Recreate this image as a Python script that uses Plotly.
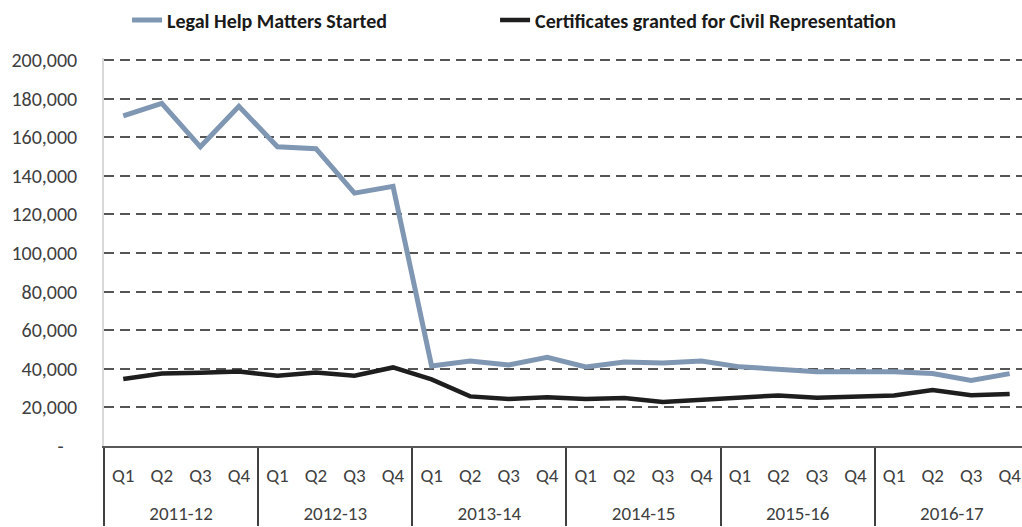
import plotly.graph_objects as go

years = ["2011-12", "2012-13", "2013-14", "2014-15", "2015-16", "2016-17"]
quarters = ["Q1", "Q2", "Q3", "Q4"]

legal_help = [171000, 177500, 155000, 176000, 155000, 154000, 131000, 134500,
              41500, 44000, 42000, 46000, 41000, 43500, 43000, 44000,
              41000, 39500, 38500, 38500, 38500, 37500, 34000, 37500]
certificates = [34700, 37600, 37900, 38600, 36400, 38100, 36400, 40700,
                34500, 25700, 24400, 25200, 24400, 24900, 22800, 24000,
                24900, 26200, 25000, 25700, 26200, 29000, 26300, 27000]

y_ticks = [0, 20000, 40000, 60000, 80000, 100000, 120000, 140000, 160000, 180000, 200000]
y_labels = ["-\u00a0\u00a0\u00a0"] + [f"{v:,}" for v in y_ticks[1:]]

# year labels are pushed to a second line to sit lower, as in the reference table axis
x_years = ["<br>" + y for y in years for _ in quarters]
x_quarters = [q for _ in years for q in quarters]

FONT = "Carlito, Calibri, Lato, sans-serif"
LEGEND_FONT = dict(family=FONT, size=20, color="#1a1a1a", weight="bold")

fig = go.Figure()
fig.add_trace(go.Scatter(
    x=[x_years, x_quarters], y=legal_help, mode="lines",
    name="Legal Help Matters Started", legend="legend",
    line=dict(color="#8097b3", width=5)))
fig.add_trace(go.Scatter(
    x=[x_years, x_quarters], y=certificates, mode="lines",
    name="Certificates granted for Civil Representation", legend="legend2",
    line=dict(color="#1e1e1e", width=4.5)))

fig.update_layout(
    width=1022, height=527,
    margin=dict(l=104, r=0, t=58, b=81),
    paper_bgcolor="white", plot_bgcolor="white",
    font=dict(family=FONT, size=18, color="#404040"),
    showlegend=True,
    legend=dict(orientation="h", x=0.0251, y=1.098, xanchor="left", yanchor="middle",
                font=LEGEND_FONT, bgcolor="rgba(0,0,0,0)"),
    legend2=dict(orientation="h", x=0.426, y=1.098, xanchor="left", yanchor="middle",
                 font=LEGEND_FONT, bgcolor="rgba(0,0,0,0)"),
    xaxis=dict(
        type="multicategory",
        range=[-0.5, 23.32],
        showline=True, linecolor="#595959", linewidth=1.5,
        showgrid=False, ticks="", ticklabelstandoff=11,
        showdividers=True, dividercolor="#404040", dividerwidth=2,
        tickfont=dict(family=FONT, size=19, color="#404040"),
        automargin=False),
    yaxis=dict(
        range=[0, 201000],
        tickvals=y_ticks, ticktext=y_labels,
        showgrid=True, gridcolor="#555555", gridwidth=2, griddash="10px,6px",
        showline=True, linecolor="#d9d9d9", linewidth=1.5,
        zeroline=False, ticks="", ticklabelstandoff=21,
        tickfont=dict(family=FONT, size=20, color="#404040"),
        automargin=False),
)

fig.write_html("out.html", config={"displayModeBar": False},
               post_script="document.body.style.margin='0';")
